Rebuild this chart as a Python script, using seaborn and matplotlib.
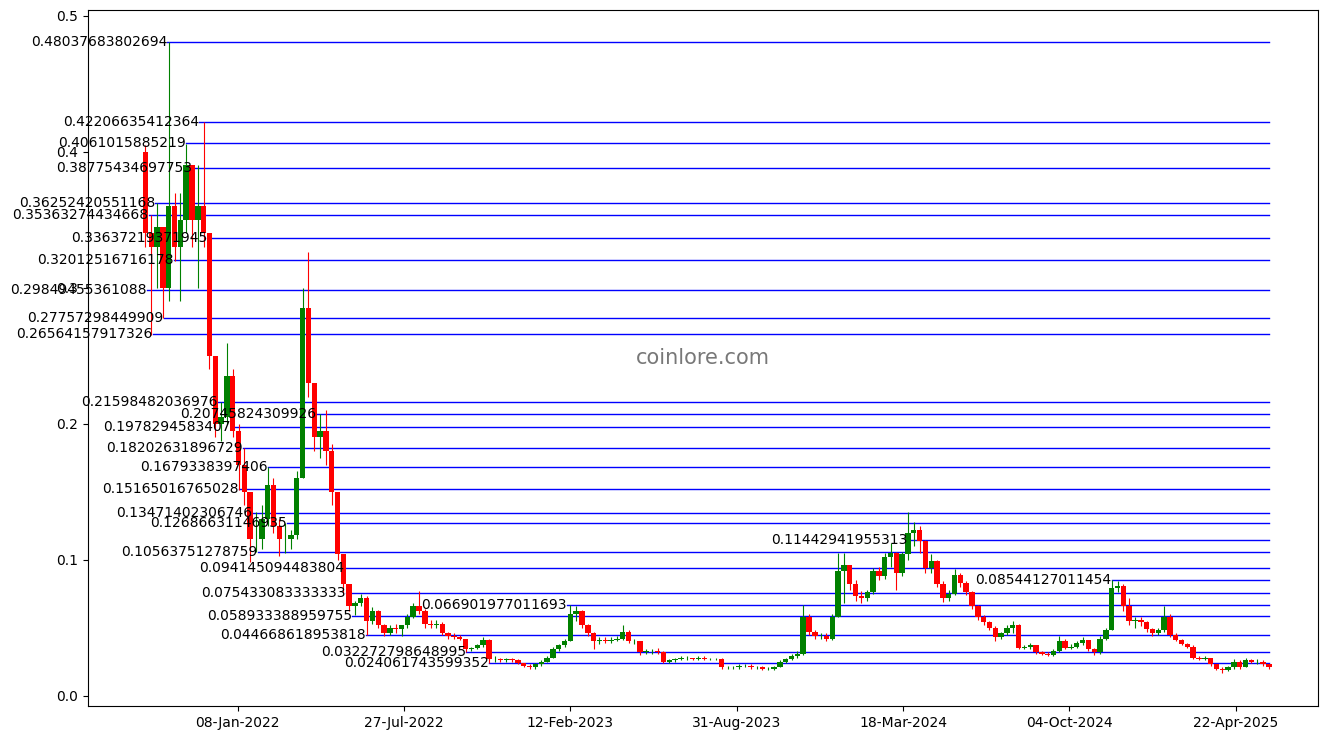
import pandas as pd
import matplotlib
matplotlib.use('Agg')
import matplotlib.pyplot as plt
import matplotlib.dates as mdates
import numpy as np
import seaborn as sns

# Weekly candles (first candle week of 19-Sep-2021)
first_open = 0.40
closes = [
    0.34, 0.33, 0.345, 0.30, 0.36, 0.33, 0.35, 0.39, 0.35, 0.36,
    0.34, 0.25, 0.20, 0.205, 0.235, 0.195, 0.17, 0.15, 0.115, 0.115,
    0.13, 0.155, 0.125, 0.115, 0.115, 0.118, 0.16, 0.285, 0.23, 0.19,
    0.195, 0.18, 0.15, 0.104, 0.082, 0.066, 0.068, 0.072, 0.055, 0.062,
    0.052, 0.046, 0.050, 0.049, 0.052, 0.058, 0.066, 0.062, 0.053, 0.052,
    0.053, 0.046, 0.044, 0.043, 0.042, 0.034, 0.035, 0.037, 0.041, 0.027,
    0.027, 0.026, 0.027, 0.026, 0.024, 0.022, 0.021, 0.023, 0.025, 0.028,
    0.034, 0.037, 0.040, 0.060, 0.062, 0.052, 0.046, 0.040, 0.041, 0.040,
    0.041, 0.042, 0.047, 0.040, 0.040, 0.032, 0.033, 0.033, 0.032, 0.025,
    0.026, 0.027, 0.028, 0.028, 0.027, 0.028, 0.027, 0.027, 0.027, 0.021,
    0.021, 0.021, 0.022, 0.022, 0.021, 0.021, 0.020, 0.020, 0.021, 0.025,
    0.027, 0.029, 0.031, 0.058, 0.047, 0.044, 0.044, 0.042, 0.058, 0.092,
    0.096, 0.082, 0.073, 0.072, 0.076, 0.092, 0.088, 0.102, 0.105, 0.090,
    0.104, 0.120, 0.122, 0.114, 0.094, 0.099, 0.082, 0.072, 0.075, 0.089,
    0.083, 0.076, 0.066, 0.058, 0.054, 0.050, 0.043, 0.046, 0.050, 0.052,
    0.035, 0.036, 0.037, 0.032, 0.031, 0.030, 0.033, 0.040, 0.035, 0.036,
    0.039, 0.041, 0.034, 0.032, 0.042, 0.048, 0.079, 0.081, 0.066, 0.055,
    0.056, 0.054, 0.049, 0.046, 0.048, 0.058, 0.045, 0.041, 0.038, 0.036,
    0.028, 0.027, 0.028, 0.023, 0.020, 0.019, 0.021, 0.025, 0.021, 0.026,
    0.025, 0.025, 0.023, 0.021,
]
highs = [
    0.405, 0.3536, 0.3625, 0.345, 0.4804, 0.37, 0.37, 0.406, 0.388, 0.39,
    0.422, 0.336, 0.25, 0.216, 0.259, 0.24, 0.20, 0.182, 0.15, 0.135,
    0.14, 0.168, 0.16, 0.13, 0.127, 0.122, 0.165, 0.30, 0.326, 0.23,
    0.2075, 0.21, 0.185, 0.15, 0.0941, 0.0754, 0.07, 0.075, 0.073, 0.065,
    0.063, 0.053, 0.052, 0.053, 0.05, 0.06, 0.068, 0.077, 0.064, 0.056,
    0.056, 0.054, 0.047, 0.046, 0.045, 0.042, 0.036, 0.038, 0.043, 0.042,
    0.029, 0.028, 0.028, 0.028, 0.027, 0.024, 0.023, 0.024, 0.026, 0.029,
    0.036, 0.038, 0.042, 0.0669, 0.066, 0.063, 0.053, 0.047, 0.043, 0.043,
    0.043, 0.044, 0.052, 0.048, 0.042, 0.040, 0.034, 0.034, 0.035, 0.033,
    0.027, 0.028, 0.029, 0.029, 0.028, 0.029, 0.029, 0.028, 0.028, 0.028,
    0.022, 0.022, 0.023, 0.023, 0.023, 0.022, 0.022, 0.021, 0.022, 0.026,
    0.028, 0.031, 0.033, 0.067, 0.060, 0.048, 0.046, 0.046, 0.060, 0.105,
    0.105, 0.096, 0.085, 0.077, 0.078, 0.094, 0.095, 0.105, 0.112, 0.106,
    0.106, 0.135, 0.128, 0.125, 0.1144, 0.104, 0.100, 0.084, 0.078, 0.093,
    0.090, 0.084, 0.077, 0.067, 0.059, 0.055, 0.051, 0.047, 0.052, 0.055,
    0.053, 0.037, 0.039, 0.037, 0.033, 0.032, 0.034, 0.044, 0.042, 0.038,
    0.040, 0.043, 0.041, 0.035, 0.044, 0.050, 0.0854, 0.084, 0.082, 0.072,
    0.058, 0.058, 0.055, 0.050, 0.050, 0.066, 0.060, 0.046, 0.042, 0.039,
    0.037, 0.029, 0.029, 0.028, 0.023, 0.021, 0.022, 0.027, 0.026, 0.028,
    0.027, 0.027, 0.026, 0.023,
]
lows = [
    0.33, 0.2656, 0.30, 0.2776, 0.29, 0.32, 0.29, 0.34, 0.33, 0.30,
    0.33, 0.24, 0.19, 0.187, 0.20, 0.19, 0.151, 0.14, 0.0985, 0.1056,
    0.108, 0.125, 0.12, 0.103, 0.105, 0.108, 0.115, 0.16, 0.22, 0.18,
    0.175, 0.17, 0.14, 0.10, 0.075, 0.062, 0.059, 0.066, 0.0447, 0.053,
    0.05, 0.044, 0.045, 0.046, 0.044, 0.05, 0.057, 0.06, 0.05, 0.05,
    0.05, 0.045, 0.042, 0.042, 0.041, 0.0323, 0.033, 0.034, 0.036, 0.0241,
    0.025, 0.025, 0.025, 0.025, 0.023, 0.021, 0.020, 0.020, 0.022, 0.025,
    0.028, 0.033, 0.036, 0.04, 0.055, 0.05, 0.044, 0.034, 0.038, 0.039,
    0.039, 0.040, 0.041, 0.039, 0.038, 0.030, 0.031, 0.031, 0.031, 0.024,
    0.024, 0.025, 0.026, 0.026, 0.026, 0.026, 0.026, 0.026, 0.026, 0.020,
    0.020, 0.020, 0.020, 0.021, 0.020, 0.020, 0.019, 0.019, 0.019, 0.021,
    0.024, 0.026, 0.028, 0.030, 0.045, 0.042, 0.042, 0.040, 0.041, 0.058,
    0.068, 0.078, 0.070, 0.068, 0.070, 0.075, 0.085, 0.086, 0.095, 0.0775,
    0.088, 0.100, 0.110, 0.105, 0.090, 0.090, 0.080, 0.069, 0.070, 0.074,
    0.080, 0.074, 0.064, 0.056, 0.052, 0.048, 0.040, 0.042, 0.045, 0.046,
    0.034, 0.034, 0.034, 0.031, 0.030, 0.029, 0.029, 0.032, 0.034, 0.034,
    0.035, 0.037, 0.033, 0.030, 0.031, 0.041, 0.048, 0.076, 0.062, 0.052,
    0.050, 0.051, 0.047, 0.044, 0.045, 0.047, 0.043, 0.040, 0.037, 0.035,
    0.027, 0.026, 0.026, 0.022, 0.019, 0.017, 0.018, 0.020, 0.020, 0.021,
    0.024, 0.023, 0.022, 0.020,
]

# Support / resistance levels and the day each one starts
levels = [
    0.48037683802694, 0.42206635412364, 0.4061015885219, 0.38775434697753,
    0.36252420551168, 0.35363274434668, 0.33637219371945, 0.32012516716178,
    0.29849455361088, 0.27757298449909, 0.26564157917326, 0.21598482036976,
    0.20745824309926, 0.1978294583407, 0.18202631896729, 0.1679338397406,
    0.15165016765028, 0.13471402306746, 0.12686631146935, 0.10563751278759,
    0.094145094483804, 0.075433083333333, 0.058933388959755, 0.044668618953818,
    0.032272798648995, 0.024061743599352, 0.066901977011693, 0.11442941955313,
    0.08544127011454,
]
level_dates = [
    '2021-10-15', '2021-11-23', '2021-11-07', '2021-11-14',
    '2021-10-01', '2021-09-23', '2021-12-02', '2021-10-23',
    '2021-09-21', '2021-10-11', '2021-09-28', '2021-12-15',
    '2022-04-12', '2021-12-31', '2022-01-14', '2022-02-13',
    '2022-01-09', '2022-01-25', '2022-03-08', '2022-02-01',
    '2022-05-16', '2022-05-18', '2022-05-26', '2022-06-11',
    '2022-10-10', '2022-11-06', '2023-02-08', '2024-03-24',
    '2024-11-24',
]
tick_dates = ['2022-01-08', '2022-07-27', '2023-02-12', '2023-08-31',
              '2024-03-18', '2024-10-04', '2025-04-22']

dates = pd.date_range('2021-09-19', periods=len(closes), freq='7D')
df = pd.DataFrame({'date': dates, 'close': closes, 'high': highs, 'low': lows})
df['open'] = [first_open] + closes[:-1]
up = df['close'] >= df['open']
colors = np.where(up, 'green', 'red')

fig = plt.figure(figsize=(13.38, 7.37), dpi=100)
ax = fig.add_axes([0.0658, 0.042, 0.9192, 0.9444])

# candles
wick_lo = df[['low', 'open', 'close']].min(axis=1)
wick_hi = df[['high', 'open', 'close']].max(axis=1)
ax.vlines(df['date'], wick_lo, wick_hi, colors=colors, linewidth=0.8, zorder=2)
ax.bar(df['date'], df['close'] - df['open'], bottom=df['open'], width=6.5,
       color=colors, linewidth=0, zorder=2)

# level lines, each from its start day to the last candle
end_date = dates[-1]
rows = []
for i, (v, d) in enumerate(zip(levels, level_dates)):
    rows.append({'level': i, 'date': pd.Timestamp(d), 'price': v})
    rows.append({'level': i, 'date': end_date, 'price': v})
lv = pd.DataFrame(rows)
sns.lineplot(data=lv, x='date', y='price', units='level', estimator=None,
             color='blue', linewidth=1, ax=ax, legend=False, zorder=1)
for v, d in zip(levels, level_dates):
    ax.text(pd.Timestamp(d), v, str(v), ha='right', va='center', fontsize=10)

ax.text(0.5, 0.5, 'coinlore.com', transform=ax.transAxes, ha='center',
        va='center', fontsize=15, color='dimgray', alpha=0.9)

ax.set_xlim(pd.Timestamp('2021-07-12'), pd.Timestamp('2025-07-30'))
ax.set_ylim(-0.0076, 0.5042)
ax.set_xticks(pd.to_datetime(tick_dates))
ax.xaxis.set_major_formatter(mdates.DateFormatter('%d-%b-%Y'))
ax.set_xlabel('')
ax.set_ylabel('')

fig.savefig('out.png', dpi=100)
